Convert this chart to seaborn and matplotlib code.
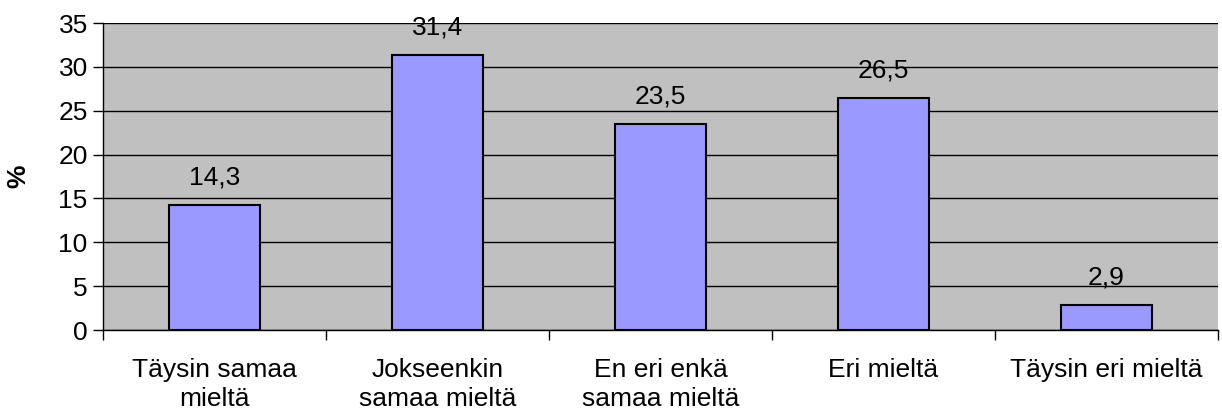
import pandas as pd
import matplotlib.pyplot as plt
import seaborn as sns

sns.set_style('white')
plt.rcParams['font.family'] = ['Liberation Sans', 'DejaVu Sans']
plt.rcParams['text.color'] = 'black'
plt.rcParams['xtick.color'] = 'black'
plt.rcParams['ytick.color'] = 'black'
plt.rcParams['axes.labelcolor'] = 'black'

# Data
categories = ['Täysin samaa\nmieltä', 'Jokseenkin\nsamaa mieltä', 'En eri enkä\nsamaa mieltä',
              'Eri mieltä', 'Täysin eri mieltä']
values = [14.3, 31.4, 23.5, 26.5, 2.9]
value_labels = ['14,3', '31,4', '23,5', '26,5', '2,9']
y_ticks = [0, 5, 10, 15, 20, 25, 30, 35]

df = pd.DataFrame({'cat': categories, 'pct': values})

fs = 19
fig = plt.figure(figsize=(12.22, 4.16), dpi=100)
ax = fig.add_axes([0.0843, 0.2067, 0.9124, 0.738])
ax.set_facecolor('#C0C0C0')

sns.barplot(data=df, x='cat', y='pct', color='#9999FF', saturation=1,
            edgecolor='black', linewidth=1.5, width=0.41, ax=ax, zorder=3)

ax.set_ylim(0, 35)
ax.set_xlim(-0.5, len(categories) - 0.5)
ax.set_yticks(y_ticks)
ax.set_yticklabels([str(t) for t in y_ticks], fontsize=fs)
for t in y_ticks:
    ax.axhline(t, color='black', linewidth=1, zorder=1)

# category labels centred, ticks on category boundaries
ax.set_xticks([i - 0.5 for i in range(len(categories) + 1)])
ax.set_xticklabels([])
ax.set_xticks(range(len(categories)), minor=True)
ax.set_xticklabels(categories, minor=True, fontsize=fs, linespacing=1.3)
ax.tick_params(axis='x', which='major', length=7, width=1, direction='out', bottom=True)
ax.tick_params(axis='x', which='minor', length=0, pad=20)
ax.tick_params(axis='y', length=7, width=1, direction='out', left=True, pad=4)

for i, (v, lab) in enumerate(zip(values, value_labels)):
    ax.annotate(lab, (i, v), xytext=(0, 11), textcoords='offset points',
                ha='center', va='bottom', fontsize=fs)

ax.set_xlabel('')
ax.set_ylabel('%', fontsize=fs, fontweight='bold', labelpad=20)

for side in ['top', 'right']:
    ax.spines[side].set_visible(False)
ax.spines['left'].set_color('black')
ax.spines['bottom'].set_color('black')
ax.spines['left'].set_linewidth(1)
ax.spines['bottom'].set_linewidth(1)

plt.savefig('out.png', dpi=100, facecolor='white')
